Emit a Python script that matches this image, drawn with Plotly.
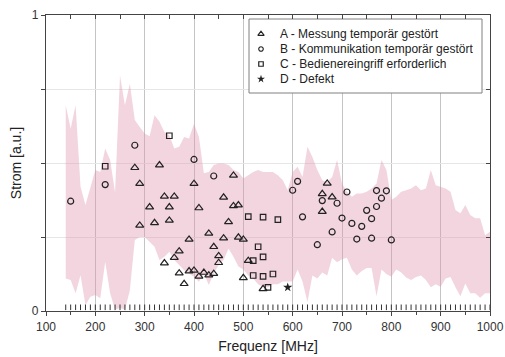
import plotly.graph_objects as go

# measurement frequency grid (MHz)
freq = [140, 150, 160, 170, 180, 190, 200, 210, 220, 230, 240, 250, 260, 270, 280, 290,
        300, 310, 320, 330, 340, 350, 360, 370, 380, 390, 400, 410, 420, 430, 440, 450,
        460, 470, 480, 490, 500, 510, 520, 530, 540, 550, 560, 570, 580, 590, 600, 610,
        620, 630, 640, 650, 660, 670, 680, 690, 700, 710, 720, 730, 740, 750, 760, 770,
        780, 790, 800, 810, 820, 830, 840, 850, 860, 870, 880, 890, 900, 910, 920, 930,
        940, 950, 960, 970, 980, 990, 1000]

band_upper = [0.695, 0.616, 0.695, 0.42, 0.358, 0.42, 0.476, 0.47, 0.549, 0.51, 0.40, 0.796,
              0.695, 0.768, 0.645, 0.622, 0.60, 0.59, 0.661, 0.639, 0.605, 0.594, 0.549, 0.555,
              0.588, 0.583, 0.633, 0.588, 0.465, 0.47, 0.493, 0.498, 0.498, 0.493, 0.476, 0.47,
              0.448, 0.459, 0.47, 0.476, 0.47, 0.47, 0.47, 0.459, 0.442, 0.408, 0.47, 0.487,
              0.453, 0.555, 0.52, 0.476, 0.442, 0.436, 0.453, 0.51, 0.431, 0.403, 0.386, 0.397,
              0.397, 0.403, 0.414, 0.431, 0.51, 0.476, 0.375, 0.386, 0.403, 0.408, 0.414, 0.425,
              0.408, 0.414, 0.476, 0.425, 0.42, 0.414, 0.403, 0.341, 0.33, 0.358, 0.324, 0.313,
              0.313, 0.256, 0.268]

band_lower = [0.11, 0.105, 0.06, 0.121, 0.02, 0.048, 0.054, 0.043, 0.166, 0.06, 0.005, 0.01,
              0.005, 0.07, 0.24, 0.25, 0.25, 0.234, 0.217, 0.172, 0.183, 0.2, 0.172, 0.155,
              0.138, 0.127, 0.116, 0.099, 0.127, 0.088, 0.127, 0.155, 0.172, 0.211, 0.183, 0.15,
              0.14, 0.12, 0.11, 0.09, 0.08, 0.08, 0.09, 0.09, 0.1, 0.1, 0.1, 0.14,
              0.1, 0.03, 0.12, 0.11, 0.13, 0.12, 0.18, 0.165, 0.175, 0.18, 0.14, 0.12,
              0.135, 0.145, 0.145, 0.05, 0.14, 0.125, 0.116, 0.14, 0.13, 0.113, 0.105, 0.115,
              0.12, 0.105, 0.08, 0.09, 0.082, 0.11, 0.115, 0.08, 0.05, 0.093, 0.06, 0.06,
              0.045, 0.06, 0.06]

rug_level = 0.0125

a_freq = [280, 290, 290, 310, 320, 330, 340, 340, 350, 350, 360, 360, 370, 370, 380, 390, 390,
          400, 400, 410, 410, 420, 430, 430, 440, 440, 450, 450, 460, 460, 470, 480, 480, 490,
          490, 500, 500, 510, 540, 660, 660, 670, 680]
a_val = [0.484, 0.43, 0.289, 0.351, 0.298, 0.493, 0.387, 0.162, 0.351, 0.306, 0.387, 0.18, 0.202,
         0.128, 0.092, 0.242, 0.135, 0.43, 0.137, 0.348, 0.117, 0.13, 0.262, 0.121, 0.217, 0.126,
         0.186, 0.163, 0.384, 0.246, 0.301, 0.458, 0.355, 0.358, 0.249, 0.242, 0.112, 0.17, 0.075,
         0.396, 0.336, 0.431, 0.385]

b_freq = [150, 220, 280, 400, 440, 600, 610, 620, 650, 660, 680, 690, 700, 710, 720, 730, 740,
          750, 760, 760, 770, 770, 780, 790, 800]
b_val = [0.371, 0.427, 0.56, 0.512, 0.456, 0.408, 0.438, 0.318, 0.224, 0.373, 0.267, 0.364, 0.314,
         0.402, 0.296, 0.243, 0.286, 0.34, 0.312, 0.246, 0.407, 0.353, 0.381, 0.406, 0.24]

c_freq = [220, 350, 510, 520, 520, 530, 540, 540, 540, 550, 560, 570]
c_val = [0.489, 0.592, 0.319, 0.17, 0.12, 0.217, 0.317, 0.183, 0.117, 0.08, 0.125, 0.309]

d_freq = [590]
d_val = [0.08]

names = ["A - Messung temporär gestört", "B - Kommunikation temporär gestört",
         "C - Bedienereingriff erforderlich", "D - Defekt"]

FONT = "Arial, Liberation Sans, sans-serif"
INK = "#222222"

# plot-area pixel frame (used only to place the hand-drawn legend)
PX_L, PX_R, PX_T, PX_B = 46, 490, 15, 311

symbols = [dict(symbol="triangle-up-open", size=7, color=INK, line=dict(width=1.2, color=INK)),
           dict(symbol="circle-open", size=6, color=INK, line=dict(width=1.2, color=INK)),
           dict(symbol="square-open", size=5.5, color=INK, line=dict(width=1.2, color=INK)),
           dict(symbol="star", size=7, color=INK, line=dict(width=0))]
leg_symbols = [dict(symbol="triangle-up-open", size=5.5, color=INK, line=dict(width=1.2, color=INK)),
               dict(symbol="circle-open", size=4.5, color=INK, line=dict(width=1.2, color=INK)),
               dict(symbol="square-open", size=4.5, color=INK, line=dict(width=1.2, color=INK)),
               dict(symbol="star", size=6, color=INK, line=dict(width=0))]

fig = go.Figure()

fig.add_trace(go.Scatter(x=freq, y=band_lower, mode="lines", line=dict(width=0),
                         hoverinfo="skip", showlegend=False))
fig.add_trace(go.Scatter(x=freq, y=band_upper, mode="lines", line=dict(width=0),
                         fill="tonexty", fillcolor="rgba(222,150,172,0.40)",
                         hoverinfo="skip", showlegend=False))

fig.add_trace(go.Scatter(x=freq, y=[rug_level] * len(freq), mode="markers",
                         marker=dict(symbol="line-ns", size=4, line=dict(width=1, color="#333")),
                         hoverinfo="skip", showlegend=False))

for fx, fy, nm, mk in zip([a_freq, b_freq, c_freq, d_freq], [a_val, b_val, c_val, d_val],
                          names, symbols):
    fig.add_trace(go.Scatter(x=fx, y=fy, mode="markers", name=nm, marker=mk, showlegend=False))

# dummy trace for mirrored top/right axes
fig.add_trace(go.Scatter(x=[100], y=[0], xaxis="x2", yaxis="y2", mode="markers",
                         marker=dict(opacity=0), hoverinfo="skip", showlegend=False))

# hand-drawn legend on a pixel-scaled overlay axis (box drawn as a filled trace)
box_x = [249, 482, 482, 249, 249]
box_y = [19, 19, 93, 93, 19]
fig.add_trace(go.Scatter(x=box_x, y=box_y, xaxis="x3", yaxis="y3", mode="lines",
                         fill="toself", fillcolor="white", line=dict(color="#808080", width=1),
                         hoverinfo="skip", showlegend=False))

leg_rows = [34, 49, 64, 79]
leg_sym_x = 261
leg_txt_x = 278
for ry, mk in zip(leg_rows, leg_symbols):
    fig.add_trace(go.Scatter(x=[leg_sym_x], y=[ry], xaxis="x3", yaxis="y3", mode="markers",
                             marker=mk, hoverinfo="skip", showlegend=False))

annotations = [dict(x=leg_txt_x, y=ry, xref="x3", yref="y3", text=nm, showarrow=False,
                    xanchor="left", yanchor="middle",
                    font=dict(family=FONT, size=12, color=INK))
               for ry, nm in zip(leg_rows, names)]

axis_line = dict(showline=True, linecolor="#444", linewidth=1.3, automargin=False)

fig.update_layout(
    width=505, height=357,
    margin=dict(l=PX_L, r=505 - PX_R, t=PX_T, b=357 - PX_B),
    paper_bgcolor="white", plot_bgcolor="white",
    font=dict(family=FONT, size=12, color="#333"),
    showlegend=False,
    xaxis=dict(range=[100, 1000], tickvals=[100, 200, 300, 400, 500, 600, 700, 800, 900, 1000],
               ticks="outside", ticklen=4, tickcolor="#444",
               minor=dict(dtick=50, tick0=0, ticks="outside", ticklen=3, tickcolor="#444", showgrid=False),
               showgrid=True, gridcolor="#c4c4c4", gridwidth=1, zeroline=False,
               title=dict(text="Frequenz [MHz]", font=dict(size=14, color=INK), standoff=8),
               tickfont=dict(size=12, color="#333"), **axis_line),
    yaxis=dict(range=[0, 1], tickvals=[0, 0.25, 0.5, 0.75, 1], ticktext=["0", "", "", "", "1"],
               ticks="outside", ticklen=4, tickcolor="#444",
               showgrid=True, gridcolor="#e6e6e6", gridwidth=1, zeroline=False,
               title=dict(text="Strom [a.u.]", font=dict(size=14, color=INK), standoff=6),
               tickfont=dict(size=12, color="#333"), **axis_line),
    xaxis2=dict(range=[100, 1000], overlaying="x", side="top", dtick=50, tick0=0,
                ticks="inside", ticklen=4, tickcolor="#444", showticklabels=False,
                showgrid=False, zeroline=False, **axis_line),
    yaxis2=dict(range=[0, 1], overlaying="y", side="right", dtick=0.25, tick0=0,
                ticks="inside", ticklen=4, tickcolor="#444", showticklabels=False,
                showgrid=False, zeroline=False, **axis_line),
    xaxis3=dict(range=[PX_L, PX_R], overlaying="x", visible=False, automargin=False),
    yaxis3=dict(range=[PX_B, PX_T], overlaying="y", visible=False, automargin=False),
    annotations=annotations,
)

fig.write_html("out.html", config={"displayModeBar": False},
               post_script="document.body.style.margin='0px';")
